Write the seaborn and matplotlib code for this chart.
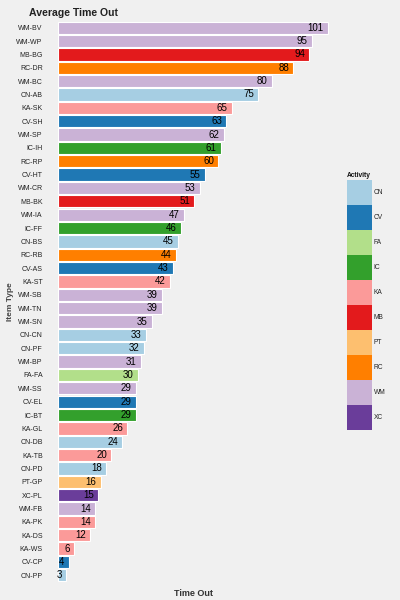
import matplotlib
matplotlib.use("Agg")
import matplotlib.pyplot as plt
import seaborn as sns
import pandas as pd
from matplotlib.patches import Rectangle

items = ["WM-BV", "WM-WP", "MB-BG", "RC-DR", "WM-BC", "CN-AB", "KA-SK", "CV-SH", "WM-SP",
         "IC-IH", "RC-RP", "CV-HT", "WM-CR", "MB-BK", "WM-IA", "IC-FF", "CN-BS", "RC-RB",
         "CV-AS", "KA-ST", "WM-SB", "WM-TN", "WM-SN", "CN-CN", "CN-PF", "WM-BP", "FA-FA",
         "WM-SS", "CV-EL", "IC-BT", "KA-GL", "CN-DB", "KA-TB", "CN-PD", "PT-GP", "XC-PL",
         "WM-FB", "KA-PK", "KA-DS", "KA-WS", "CV-CP", "CN-PP"]
time_out = [101, 95, 94, 88, 80, 75, 65, 63, 62, 61, 60, 55, 53, 51, 47, 46, 45, 44, 43, 42,
            39, 39, 35, 33, 32, 31, 30, 29, 29, 29, 26, 24, 20, 18, 16, 15, 14, 14, 12, 6, 4, 3]
activities = ["CN", "CV", "FA", "IC", "KA", "MB", "PT", "RC", "WM", "XC"]
colors = ["#a6cee3", "#1f78b4", "#b2df8a", "#33a02c", "#fb9a99", "#e31a1c", "#fdbf6f",
          "#ff7f00", "#cab2d6", "#6a3d9a"]

df = pd.DataFrame({"item": items, "time": time_out,
                   "activity": [s.split("-")[0] for s in items]})
palette = dict(zip(activities, colors))

sns.set_style("white")
plt.rcParams["font.family"] = ["Liberation Sans", "DejaVu Sans"]

BG = "#f0f0f0"
fig = plt.figure(figsize=(4, 6), dpi=100, facecolor=BG)
ax = fig.add_axes([0.145, 0.03, 0.705, 0.935])
ax.set_facecolor(BG)

sns.barplot(data=df, x="time", y="item", hue="activity", hue_order=activities,
            palette=palette, saturation=1, dodge=False, width=0.92, edgecolor="white",
            linewidth=0.8, legend=False, ax=ax, order=items)

for i, v in enumerate(time_out):
    ax.text(v - 1.6, i, str(v), ha="right", va="center", fontsize=7, color="black")

ax.set_xlim(0, 105.5)
ax.set_ylim(len(items) - 0.5, -0.5)
ax.set_xticks([])
ax.tick_params(axis="y", length=0, pad=11, labelsize=5, labelcolor="#222222")
for sp in ax.spines.values():
    sp.set_visible(False)
ax.set_xlabel("Time Out", fontsize=6.5, fontweight="bold", color="#333333")
ax.xaxis.set_label_coords(0.479, -0.012)
ax.set_ylabel("Item Type", fontsize=6, fontweight="bold", color="#444444")
ax.yaxis.set_label_coords(-0.156, 0.5)

fig.text(0.073, 0.978, "Average Time Out", fontsize=7.6, fontweight="bold",
         ha="left", va="center", color="#222222")

# colour key
lax = fig.add_axes([347 / 400, 1 - 430 / 600, 25 / 400, 250 / 600])
lax.set_xlim(0, 1)
lax.set_ylim(len(activities), 0)
lax.axis("off")
for k, (a, c) in enumerate(zip(activities, colors)):
    lax.add_patch(Rectangle((0, k), 1, 1, facecolor=c, edgecolor="none"))
    lax.text(1.06, k + 0.5, a, fontsize=4.8, ha="left", va="center", color="#222222",
             clip_on=False)
lax.text(0, -0.05, "Activity", fontsize=4.8, fontweight="bold", ha="left", va="bottom",
         color="#111111", clip_on=False)

fig.savefig("out.png", dpi=100, facecolor=fig.get_facecolor())
